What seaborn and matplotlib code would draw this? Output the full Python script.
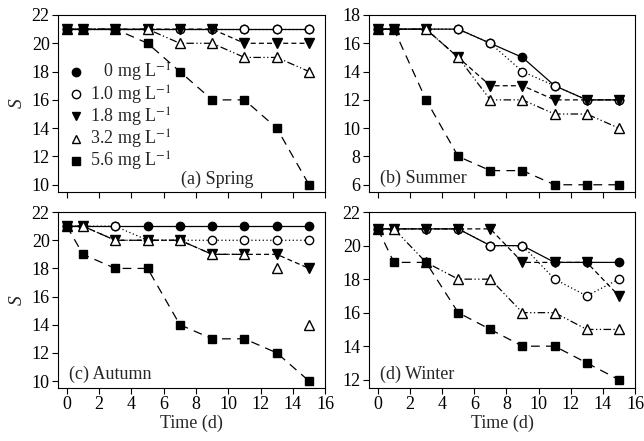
import matplotlib
matplotlib.use("Agg")
import matplotlib.pyplot as plt
import seaborn as sns
import numpy as np
from matplotlib.lines import Line2D

sns.set_theme(style="ticks")
plt.rcParams["font.family"] = ["Liberation Serif", "DejaVu Serif"]
plt.rcParams["mathtext.fontset"] = "stix"

time = [0, 1, 3, 5, 7, 9, 11, 13, 15]
labels = ["   0 mg L$^{-1}$", "1.0 mg L$^{-1}$", "1.8 mg L$^{-1}$", "3.2 mg L$^{-1}$", "5.6 mg L$^{-1}$"]

spring = [
    [21, 21, 21, 21, 21, 21, 21, 21, 21],
    [21, 21, 21, 21, 21, 21, 21, 21, 21],
    [21, 21, 21, 21, 21, 21, 20, 20, 20],
    [21, 21, 21, 21, 20, 20, 19, 19, 18],
    [21, 21, 21, 20, 18, 16, 16, 14, 10],
]
summer = [
    [17, 17, 17, 17, 16, 15, 13, 12, 12],
    [17, 17, 17, 17, 16, 14, 13, 12, 12],
    [17, 17, 17, 15, 13, 13, 12, 12, 12],
    [17, 17, 17, 15, 12, 12, 11, 11, 10],
    [17, 17, 12, 8, 7, 7, 6, 6, 6],
]
autumn = [
    [21, 21, 21, 21, 21, 21, 21, 21, 21],
    [21, 21, 21, 20, 20, 20, 20, 20, 20],
    [21, 21, 20, 20, 20, 19, 19, 19, 18],
    [21, 21, 20, 20, 20, 19, 19, 18, 14],
    [21, 19, 18, 18, 14, 13, 13, 12, 10],
]
winter = [
    [21, 21, 21, 21, 20, 20, 19, 19, 19],
    [21, 21, 21, 21, 20, 20, 18, 17, 18],
    [21, 21, 21, 21, 21, 19, 19, 19, 17],
    [21, 21, 19, 18, 18, 16, 16, 15, 15],
    [21, 19, 19, 16, 15, 14, 14, 13, 12],
]
# number of leading points joined by a line (the rest drawn as markers only)
autumn_line_points = [9, 9, 9, 7, 9]

panel_titles = ["(a) Spring", "(b) Summer", "(c) Autumn", "(d) Winter"]

markers = ["o", "o", "v", "^", "s"]
faces = ["black", "white", "black", "white", "black"]
msizes = [6, 6, 6.5, 6.5, 6]
dashes = [(None, None), (1, 2), (4, 2.5), (6, 2, 1, 2, 1, 2), (7, 5)]

fig = plt.figure(figsize=(6.44, 4.41), dpi=100)
axes_pos = [
    [0.090, 0.565, 0.415, 0.401],
    [0.573, 0.565, 0.413, 0.401],
    [0.090, 0.120, 0.415, 0.399],
    [0.573, 0.120, 0.413, 0.399],
]
ylims = [(9.5, 22), (5.5, 18), (9.5, 22), (11.5, 22)]
yticks = [np.arange(10, 23, 2), np.arange(6, 19, 2), np.arange(10, 23, 2), np.arange(12, 23, 2)]
datasets = [spring, summer, autumn, winter]
text_pos = [(0.46, 0.02, "left"), (0.04, 0.025, "left"), (0.04, 0.03, "left"), (0.04, 0.03, "left")]

for i, (pos, data) in enumerate(zip(axes_pos, datasets)):
    ax = fig.add_axes(pos)
    for j, vals in enumerate(data):
        kw = {}
        if dashes[j][0] is None:
            kw["linestyle"] = "-"
        else:
            kw["dashes"] = dashes[j]
        n = autumn_line_points[j] if i == 2 else len(time)
        sns.lineplot(x=time[:n], y=vals[:n], ax=ax, color="black", linewidth=0.9,
                     marker=markers[j], markersize=msizes[j],
                     markerfacecolor=faces[j], markeredgecolor="black",
                     markeredgewidth=1.0, zorder=3 + j, **kw)
        if n < len(time):
            ax.plot(time[n:], vals[n:], linestyle="none", marker=markers[j],
                    markersize=msizes[j], markerfacecolor=faces[j],
                    markeredgecolor="black", markeredgewidth=1.0, zorder=3 + j)
    ax.set_xlim(-0.55, 16)
    ax.set_ylim(*ylims[i])
    ax.set_xticks(np.arange(0, 17, 2))
    ax.set_yticks(yticks[i])
    ax.tick_params(axis="both", direction="out", length=4, width=0.8, labelsize=13,
                   colors="black", pad=2)
    for s in ax.spines.values():
        s.set_linewidth(0.8)
        s.set_color("black")
    if i < 2:
        ax.set_xticklabels([])
        ax.set_xlabel("")
    else:
        ax.set_xlabel("Time (d)", fontsize=13, labelpad=1)
    if i % 2 == 0:
        ax.set_ylabel("S", fontsize=14, fontstyle="italic", labelpad=4)
    else:
        ax.set_ylabel("")
    tx, ty, ha = text_pos[i]
    ax.text(tx, ty, panel_titles[i], transform=ax.transAxes, fontsize=13,
            ha=ha, va="bottom")
    if i == 0:
        handles = [Line2D([], [], linestyle="none", marker=markers[j],
                          markersize=6, markerfacecolor=faces[j],
                          markeredgecolor="black") for j in range(5)]
        ax.legend(handles, labels, loc="upper left", bbox_to_anchor=(0.0, 0.8),
                  frameon=False, fontsize=13, handlelength=0.8,
                  handletextpad=0.4, labelspacing=-0.05, borderaxespad=0.2)
    else:
        if ax.get_legend() is not None:
            ax.get_legend().remove()

fig.savefig("out.png", dpi=100)
